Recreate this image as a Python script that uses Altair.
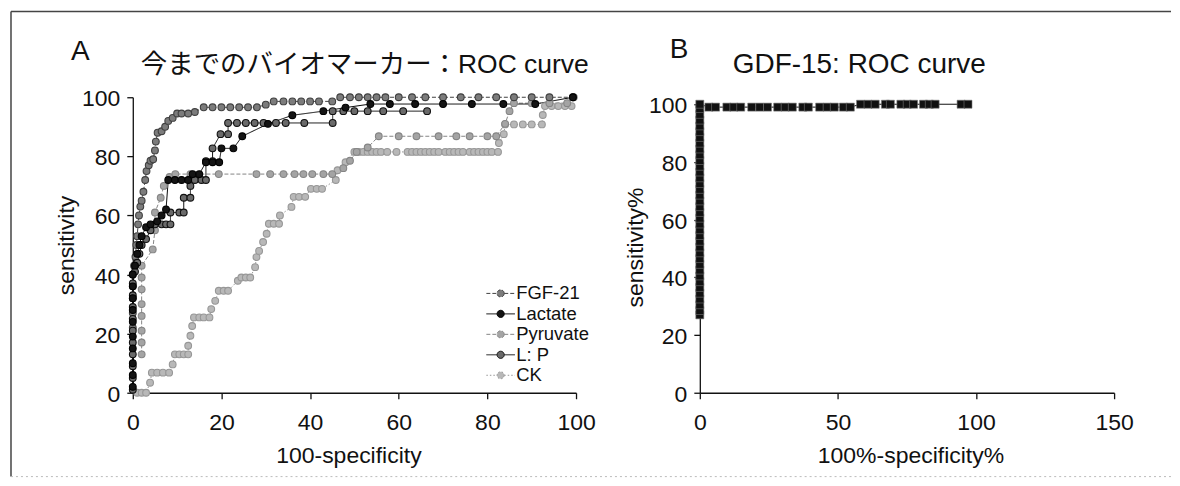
import altair as alt
import pandas as pd

# ---------------- data ----------------
SERIES = ["FGF-21", "Lactate", "Pyruvate", "L: P", "CK"]

FGF_X = [0, 0, 0, 0, 0, 0.3, 0.6, 0.8, 1, 1.2, 1.4, 1.7, 2, 2.4, 2.8, 3.1, 3.6, 4, 4.6, 5,
         5.2, 5.6, 6.5, 7.3, 8, 9, 10, 11, 12.5, 14, 16, 18, 20, 22, 24, 26, 28, 30, 31.8,
         34, 36, 38, 40, 42, 45, 46.8, 49, 51, 53, 55, 57, 60, 63, 66, 70, 74, 78, 82, 86,
         90, 94, 99.3]
FGF_Y = [22, 27, 32, 36, 40, 43, 46, 50, 53, 57, 60, 63, 65, 68, 72, 75, 77, 78.5, 79, 82,
         85, 88, 88.5, 90, 92, 93, 94.5, 94.5, 94.5, 95, 96.6, 96.6, 96.6, 96.6, 96.6, 96.6,
         96.6, 97.5, 98.6, 98.6, 98.6, 98.6, 98.6, 98.6, 98.6, 100, 100, 100, 100, 100, 100,
         100, 100, 100, 100, 100, 100, 100, 100, 100, 100, 100]

LAC_X = [0, 0, 0, 0, 0, 0, 0, 0, 0, 0, 0.5, 1, 1.5, 2, 3, 4, 5.5, 6.5, 7.5, 8, 9.5, 11, 12.5,
         13.5, 15, 16.5, 18, 19.5, 20, 22.7, 24.7, 30.5, 36, 43, 48, 53.6, 58, 63.7, 70, 76.5,
         83.6, 90.8, 99.3]
LAC_Y = [2, 6, 10, 15, 19, 24, 28, 32, 36, 40, 43, 47, 50, 53, 56, 57, 58, 60, 62, 72, 72, 72,
         72, 74, 74, 78, 78, 78, 82.7, 82.7, 86.8, 91, 93.9, 95.3, 96.5, 97.7, 97.7, 97.7, 97.7,
         97.7, 97.7, 97.7, 100]

PYR_X = [2, 2, 2, 2, 2, 2, 2, 2, 4.5, 5, 5, 6.3, 7, 8.3, 9.6, 13, 19.4, 27.9, 31, 34, 36.5,
         38.5, 40.5, 43, 45, 47.5, 49, 50.5, 53, 55.5, 60, 64, 69, 73, 76, 80, 82, 84, 85, 86,
         90, 94, 98, 99.5]
PYR_Y = [13, 17, 21, 26, 30, 35, 39, 43, 48.5, 55, 61, 66, 70, 73, 74, 74, 74, 74, 74, 74, 74,
         74, 74, 74, 74, 76, 78.5, 81.5, 83, 86.8, 86.8, 86.8, 86.8, 86.8, 86.8, 86.8, 86.8,
         91, 95.3, 98, 98, 98, 98, 100]

LP_X = [0, 0, 0, 0, 0, 0, 0, 0, 0, 0, 0.5, 1, 1.5, 2, 3, 4, 5, 6.5, 7.5, 8.5, 8.5, 10.5, 11.5,
        11.5, 13, 13, 14, 15.5, 16.5, 16.5, 18, 18, 19.8, 21.5, 21.5, 23.5, 25.5, 27.5, 29.5,
        32.3, 34.5, 38.7, 45.1, 45.1, 47.5, 50, 53, 56.5, 61, 66.4]
LP_Y = [1, 5, 9, 13, 17, 21, 25, 29, 33, 37, 41, 44, 47, 50, 52, 55, 57, 57, 57, 57, 61, 61, 61,
        66, 66, 70, 72, 72, 72, 78.4, 78.4, 82.7, 87.5, 87.5, 91.3, 91.3, 91.3, 91.3, 91.3,
        91.3, 91.3, 91.3, 91.3, 95.3, 95.3, 95.3, 95.3, 95.3, 95.3, 95.3]

CK_X = [1, 2, 3, 3.9, 4.3, 5.5, 6.8, 8.2, 9, 9.5, 10.5, 11.5, 12.5, 12.5, 13, 13.4, 13.8, 15,
        16, 17.3, 17.7, 18.6, 19.4, 20.5, 21.5, 23.7, 24.5, 25.5, 26.5, 27.6, 27.9, 28.5, 29.4,
        30.2, 30.7, 31.8, 33, 33.2, 35.8, 36.3, 37.5, 38.9, 40.2, 41.5, 42.7, 45.8, 46.2, 48,
        50, 51, 52, 53, 54, 55, 56, 57.4, 59.5, 62, 63, 64, 65, 66, 67, 68, 69, 70.5, 71.5,
        72.5, 73.5, 74.5, 76, 77, 78, 79, 80, 81, 82.4, 82.6, 83.7, 84, 86, 88, 90, 92.3, 92.5,
        93, 94.5, 96, 97.5, 99]
CK_Y = [0, 0, 0, 3.4, 6.8, 6.8, 6.8, 6.8, 9.6, 13, 13, 13, 13, 15.9, 19.3, 22.6, 25.5, 25.5,
        25.5, 25.5, 28.3, 31.1, 34.5, 34.5, 34.5, 37.9, 39, 39, 39, 42.5, 45.9, 48, 51, 53.8,
        57.2, 57.2, 57.2, 60, 62.9, 66.3, 66.3, 66.3, 69, 69, 69, 72, 75.3, 78, 81.5, 81.5,
        81.5, 81.5, 81.5, 81.5, 81.5, 81.5, 81.5, 81.5, 81.5, 81.5, 81.5, 81.5, 81.5, 81.5,
        81.5, 81.5, 81.5, 81.5, 81.5, 81.5, 81.5, 81.5, 81.5, 81.5, 81.5, 81.5, 81.5, 84.5,
        87.5, 90.8, 90.8, 90.8, 90.8, 90.8, 94, 97, 97, 97, 97, 97]

GDF_X = [0, 0, 0, 0, 0, 0, 0, 0, 0, 0, 0, 0, 0, 0, 0, 0, 0, 0, 0, 0, 0, 0, 0, 0, 0, 0, 0, 0,
         0, 0, 0, 0, 0, 0, 0, 0, 0, 0,
         3.3, 5.7, 9.8, 12.3, 14.8, 18.8, 21.7, 24.5, 28.2, 30.9, 33.5, 37.3, 39.3, 43.4, 46.1,
         48.7, 52, 54.5, 58.2, 60.9, 63.5, 67.2, 69, 72.8, 75.1, 77.4, 81, 83.1, 85.2, 94.6,
         97.1]
GDF_Y = [27, 28.5, 30.5, 32.5, 34.5, 36.5, 38.5, 40.5, 42.5, 44.5, 46.5, 48.5, 50.5, 52.5,
         54.5, 56.5, 58.5, 60.5, 62.5, 64.5, 66.5, 68.5, 70.5, 72.5, 74.5, 76.5, 78.5, 80.5,
         82.5, 84.5, 86.5, 88.5, 90.5, 92.5, 94.5, 96.5, 98.5, 100,
         99, 99, 99, 99, 99, 99, 99, 99, 99, 99, 99, 99, 99, 99, 99, 99, 99, 99, 100, 100, 100,
         100, 100, 100, 100, 100, 100, 100, 100, 100, 100]

TITLE_A = ["A", "今までのバイオマーカー：ROC curve"]
TITLE_B = ["B", "GDF-15: ROC curve"]
AXIS_A = ["100-specificity", "sensitivity"]
AXIS_B = ["100%-specificity%", "sensitivity%"]
TICKS_A = [0, 20, 40, 60, 80, 100]
TICKS_B_X = [0, 50, 100, 150]
TICKS_Y = [0, 20, 40, 60, 80, 100]

# ---------------- styles ----------------
STROKE = ["#404040", "#000000", "#858585", "#101010", "#979797"]
FILL = ["#7c7c7c", "#141414", "#a4a4a4", "#6a6a6a", "#b8b8b8"]
DASH = [[4, 2], [1, 0], [4, 2], [1, 0], [1.5, 2]]
LATIN = "Liberation Sans"
MIXED = "Liberation Sans, Noto Sans CJK JP"

rows = []
draw_order = [("CK", CK_X, CK_Y), ("Pyruvate", PYR_X, PYR_Y), ("FGF-21", FGF_X, FGF_Y),
              ("L: P", LP_X, LP_Y), ("Lactate", LAC_X, LAC_Y)]
for name, xs, ys in draw_order:
    for i, (xv, yv) in enumerate(zip(xs, ys)):
        rows.append({"series": name, "x": xv, "y": yv, "i": i})
dfA = pd.DataFrame(rows)
dfB = pd.DataFrame({"x": GDF_X, "y": GDF_Y, "i": list(range(len(GDF_X)))})

WA, WB, H = 444, 415, 296

PATH = "M-1.6,0H-0.4M0.4,0H1.6M0.4,0A0.4,0.4,0,1,1,-0.4,0A0.4,0.4,0,1,1,0.4,0Z"
leg = alt.Legend(title=None, orient="none", legendX=359, legendY=187, symbolType=PATH,
                 symbolSize=320, symbolStrokeWidth=1, labelFont=LATIN, labelFontSize=18.5,
                 labelColor="#111", labelOffset=6, rowPadding=1.5, padding=0)

xA = alt.X("x:Q", scale=alt.Scale(domain=[0, 100], range=[0, WA], nice=False, zero=False),
           axis=alt.Axis(values=TICKS_A, title=AXIS_A[0], titleX=216, titleY=69.5,
                         titleBaseline="alphabetic"))
yA = alt.Y("y:Q", scale=alt.Scale(domain=[0, 100], range=[H, 0], nice=False, zero=False),
           axis=alt.Axis(values=TICKS_Y, title=AXIS_A[1], titleX=-59, titleY=148,
                         titleBaseline="alphabetic"))

stroke_enc = alt.Stroke("series:N", scale=alt.Scale(domain=SERIES, range=STROKE), legend=leg)
lines = alt.Chart(dfA).mark_line(strokeWidth=1).encode(
    x=xA, y=yA, order="i:Q", stroke=stroke_enc,
    strokeDash=alt.StrokeDash("series:N", scale=alt.Scale(domain=SERIES, range=DASH), legend=leg))
points = alt.Chart(dfA).mark_point(filled=True, shape="circle", size=46, strokeWidth=1.1,
                                   opacity=1).encode(
    x=xA, y=yA, stroke=stroke_enc,
    fill=alt.Fill("series:N", scale=alt.Scale(domain=SERIES, range=FILL), legend=leg))

one = pd.DataFrame({"k": [0]})
frame_left = alt.Chart(one).mark_rule(color="#444", strokeWidth=1.5).encode(
    x=alt.value(-122), y=alt.value(-86), y2=alt.value(380))
frame_top = alt.Chart(one).mark_rule(color="#444", strokeWidth=1.5).encode(
    x=alt.value(-122), x2=alt.value(1040), y=alt.value(-86))
frame_bottom = alt.Chart(one).mark_rule(color="#bbb", strokeWidth=1, strokeDash=[2, 3]).encode(
    x=alt.value(-122), x2=alt.value(1040), y=alt.value(380))

letterA = alt.Chart(pd.DataFrame({"t": [TITLE_A[0]]})).mark_text(
    font=LATIN, fontSize=28, align="left", baseline="alphabetic", color="#111").encode(
    text="t:N", x=alt.value(-62), y=alt.value(-37))
titleA = alt.Chart(pd.DataFrame({"t": [TITLE_A[1]]})).mark_text(
    font=MIXED, fontSize=26.5, align="left", baseline="alphabetic", color="#111").encode(
    text="t:N", x=alt.value(8), y=alt.value(-24))

panelA = alt.layer(frame_left, frame_top, frame_bottom, lines, points, letterA, titleA).properties(
    width=WA, height=H)

xB = alt.X("x:Q", scale=alt.Scale(domain=[0, 150], range=[0, WB], nice=False, zero=False),
           axis=alt.Axis(values=TICKS_B_X, title=AXIS_B[0], titleX=211, titleY=69.5,
                         titleBaseline="alphabetic"))
yB = alt.Y("y:Q", scale=alt.Scale(domain=[0, 100], range=[H, 7], nice=False, zero=False),
           axis=alt.Axis(values=TICKS_Y, title=AXIS_B[1], titleX=-57, titleY=150,
                         titleBaseline="alphabetic"))

lineB = alt.Chart(dfB).mark_line(color="#111", strokeWidth=1).encode(x=xB, y=yB, order="i:Q")
squaresB = alt.Chart(dfB).mark_square(size=64, fill="#111", stroke="#777", strokeWidth=0.6,
                                      opacity=1).encode(x=xB, y=yB)
letterB = alt.Chart(pd.DataFrame({"t": [TITLE_B[0]]})).mark_text(
    font=LATIN, fontSize=28, align="left", baseline="alphabetic", color="#111").encode(
    text="t:N", x=alt.value(-30), y=alt.value(-39))
titleB = alt.Chart(pd.DataFrame({"t": [TITLE_B[1]]})).mark_text(
    font=LATIN, fontSize=28, align="left", baseline="alphabetic", color="#111").encode(
    text="t:N", x=alt.value(33), y=alt.value(-24))

panelB = alt.layer(lineB, squaresB, letterB, titleB).properties(width=WB, height=H)

chart = alt.hconcat(panelA, panelB, spacing=124, bounds="flush").properties(
    padding={"left": 2, "top": 2, "right": 0, "bottom": 0},
    background="white",
).configure_view(stroke=None).configure_axis(
    grid=False, domainColor="#111", domainWidth=1.3, tickColor="#111", tickWidth=1.3,
    tickSize=6, labelFont=LATIN, labelFontSize=23, labelColor="#111", titleFont=LATIN,
    titleFontSize=23, titleFontWeight="normal", titleColor="#111", labelOverlap=False,
    labelFlush=False,
).configure_axisX(labelPadding=13).configure_axisY(labelPadding=7, labelOffset=1.5)

chart.save("out.html", embed_options={"renderer": "svg", "actions": False})
